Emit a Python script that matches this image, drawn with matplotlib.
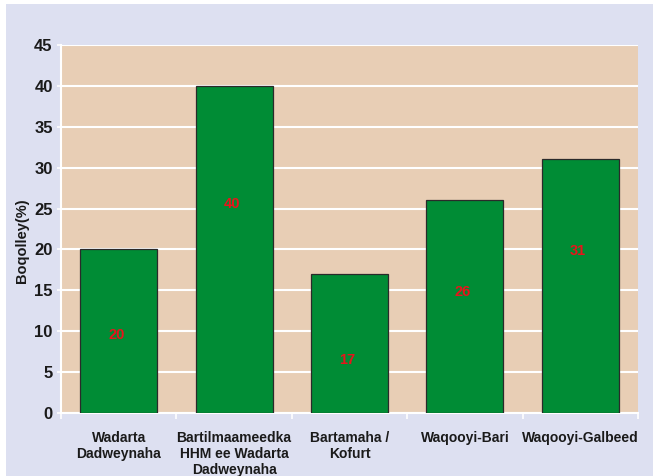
import matplotlib
matplotlib.use("Agg")
import matplotlib.pyplot as plt
import numpy as np

categories = ["Wadarta\nDadweynaha", "Bartilmaameedka\nHHM ee Wadarta\nDadweynaha",
              "Bartamaha /\nKofurt", "Waqooyi-Bari", "Waqooyi-Galbeed"]
values = [20, 40, 17, 26, 31]
label_pos = [9.5, 25.6, 6.5, 14.8, 19.8]
yticks = [0, 5, 10, 15, 20, 25, 30, 35, 40, 45]

plt.rcParams['font.family'] = ['Liberation Sans', 'DejaVu Sans']

W, H = 653, 476
fig = plt.figure(figsize=(W/100, H/100), dpi=100)
fig.patch.set_facecolor('white')
# lavender background panel
fig.patches.append(plt.Rectangle((6/W, 0), 1 - 6/W, 1 - 4/H, transform=fig.transFigure,
                                 facecolor='#DDE0F1', edgecolor='none', zorder=-10))

ax = fig.add_axes([61/W, 1 - 413/H, (638-61)/W, (413-45)/H])
ax.set_facecolor('#E8CEB5')

x = np.arange(len(categories))
ax.bar(x, values, width=0.667, color='#008C35', edgecolor='#2a2a2a', linewidth=0.9, zorder=3)
for xi, v, lp in zip(x, values, label_pos):
    ax.text(xi - 0.02, lp, str(v), ha='center', va='center', color='#E8141B',
            fontsize=10.5, fontweight='bold', zorder=4)

ax.set_xlim(-0.5, len(categories) - 0.5)
ax.set_ylim(0, 45)
ax.set_yticks(yticks)
ax.set_yticklabels([str(t) for t in yticks], fontsize=12, fontweight='bold', color='#1a1a1a')
ax.yaxis.grid(True, color='white', linewidth=1.5, zorder=1)
ax.set_axisbelow(True)

ax.set_xticks(np.arange(len(categories) + 1) - 0.5, minor=False)
ax.set_xticklabels([])
ax.set_xticks(x, minor=True)
ax.set_xticklabels(categories, minor=True, fontsize=10, fontweight='bold', color='#1a1a1a',
                   linespacing=1.2)
ax.tick_params(axis='x', which='minor', length=0, pad=13)
ax.tick_params(axis='x', which='major', length=4, color='white', width=1.2)
ax.tick_params(axis='y', length=3, color='white', width=1.2, pad=3)

for s in ['top', 'right']:
    ax.spines[s].set_visible(False)
for s in ['left', 'bottom']:
    ax.spines[s].set_color('white')
    ax.spines[s].set_linewidth(1.5)

ax.set_ylabel('Boqolley(%)', fontsize=10.5, fontweight='bold', color='#1a1a1a')
ax.yaxis.set_label_coords((29 - 61) / (638 - 61), (413 - 241) / (413 - 45))

fig.savefig('out.png', dpi=100, facecolor=fig.get_facecolor())
